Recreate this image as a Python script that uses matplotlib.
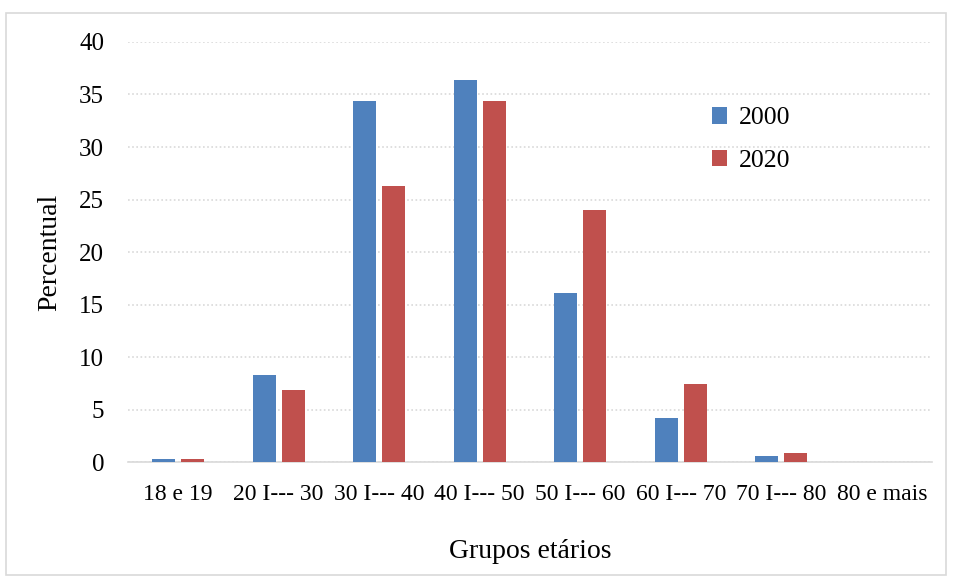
import matplotlib
matplotlib.use("Agg")
import matplotlib.pyplot as plt
import numpy as np
from matplotlib.patches import Rectangle

categories = ["18 e 19", "20 I--- 30", "30 I--- 40", "40 I--- 50", "50 I--- 60",
              "60 I--- 70", "70 I--- 80", "80 e mais"]
v2000 = [0.3, 8.3, 34.4, 36.4, 16.1, 4.2, 0.6, 0.0]
v2020 = [0.3, 6.9, 26.3, 34.4, 24.0, 7.4, 0.9, 0.0]
series_names = ["2000", "2020"]
yticks = [0, 5, 10, 15, 20, 25, 30, 35, 40]

plt.rcParams['font.family'] = ['Liberation Serif', 'DejaVu Serif']

fig = plt.figure(figsize=(9.54, 5.8), dpi=100)
ax = fig.add_axes([0.134, 0.2034, 0.843, 0.7242])

x = np.arange(len(categories))
w = 0.229
off = 0.144
b1 = ax.bar(x - off, v2000, w, color="#4F81BD", label=series_names[0], zorder=3)
b2 = ax.bar(x + off, v2020, w, color="#C0504D", label=series_names[1], zorder=3)

ax.set_xlim(-0.5, len(categories) - 0.5)
ax.set_ylim(0, 40)
ax.set_yticks(yticks)
ax.set_xticks(x)
ax.set_xticklabels(categories, fontsize=17)
ax.tick_params(axis='y', labelsize=18, length=0, pad=17)
ax.tick_params(axis='x', length=0, pad=16)
ax.yaxis.grid(True, color="#D9D9D9", linestyle=(0, (1, 1.5)), linewidth=1.2, zorder=0)
for s in ["top", "right", "left"]:
    ax.spines[s].set_visible(False)
ax.spines["bottom"].set_color("#D9D9D9")
ax.spines["bottom"].set_linewidth(1.2)

ax.set_ylabel("Percentual", fontsize=20, labelpad=12)
ax.set_xlabel("Grupos etários", fontsize=20, labelpad=24)

leg = fig.legend(handles=[b1, b2], loc="upper left", bbox_to_anchor=(0.722, 0.855),
                 frameon=False, fontsize=18.5, handlelength=0.6, handleheight=0.6,
                 handletextpad=0.45, labelspacing=0.8)

fig.patches.append(Rectangle((0.006, 0.008), 0.986, 0.97, transform=fig.transFigure,
                             fill=False, edgecolor="#D9D9D9", linewidth=1.2))

fig.savefig("out.png", dpi=100)
